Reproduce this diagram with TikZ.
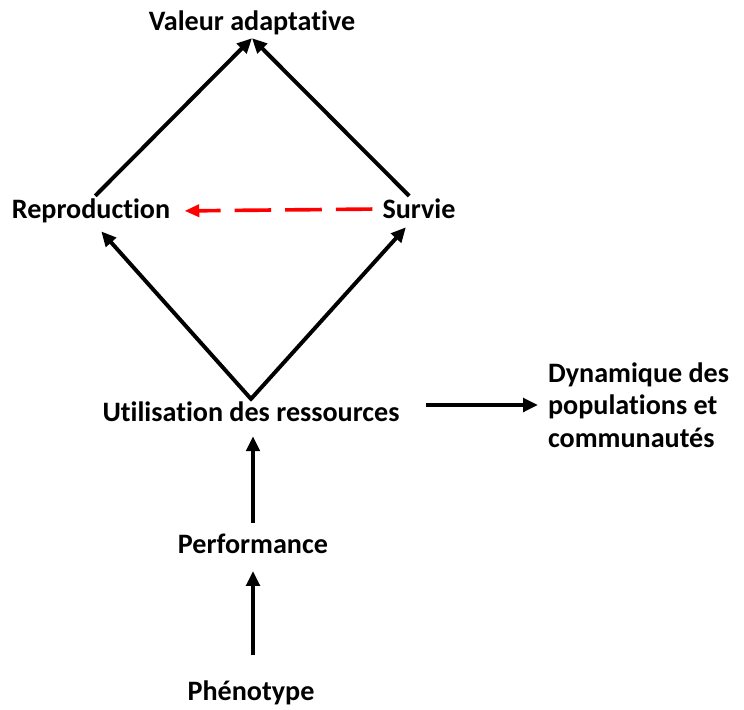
\documentclass[tikz,border=0pt]{standalone}
\usepackage{fontspec}
\setmainfont[Ligatures=NoCommon]{Carlito}
\usetikzlibrary{arrows.meta}
\begin{document}
\begin{tikzpicture}[x=0.025cm, y=-0.025cm,
    main/.style = {font=\bfseries\fontsize{20}{23}\selectfont, inner sep=2pt},
    arr/.style = {line width=2.8pt, -{Triangle[length=10.5pt,width=9.5pt]}},
    redarr/.style = {line width=2.6pt, red, dash pattern=on 26pt off 10pt, -{Triangle[length=10.5pt,width=8.5pt]}}]
    \useasboundingbox (0,0) rectangle (744,710);
    \node[main] (valeur) at (252,23) {Valeur adaptative};
    \node[main] (repro) at (91,211) {Reproduction};
    \node[main] (survie) at (419,209) {Survie};
    \node[main] (util) at (251,412) {Utilisation des ressources};
    \node[main, align=left, anchor=west] (dyna) at (545,405) {Dynamique des\\populations et\\communautés};
    \node[main] (perf) at (253,544) {Performance};
    \node[main] (pheno) at (251,693) {Phénotype};
    \draw[arr] ([xshift=3pt]repro.north) -- (valeur.south);
    \draw[arr] ([xshift=-7pt]survie.north) -- (valeur.south);
    \draw[redarr, shorten <=5pt, shorten >=8pt] (survie.west) -- (repro.east);
    \draw[arr, shorten <=-1pt, shorten >=5pt] (util.north) -- ([xshift=4pt]repro.south);
    \draw[arr, shorten <=-1pt, shorten >=5pt] (util.north) -- ([xshift=-6pt]survie.south);
    \draw[arr, shorten <=17pt, shorten >=5pt] (util.east |- dyna.west) -- (dyna.west);
    \draw[arr, shorten <=6pt, shorten >=8pt] (perf.north) -- (perf.north |- util.south);
    \draw[arr, shorten <=16pt, shorten >=10pt] (pheno.north -| perf.south) -- (perf.south);
\end{tikzpicture}
\end{document}
